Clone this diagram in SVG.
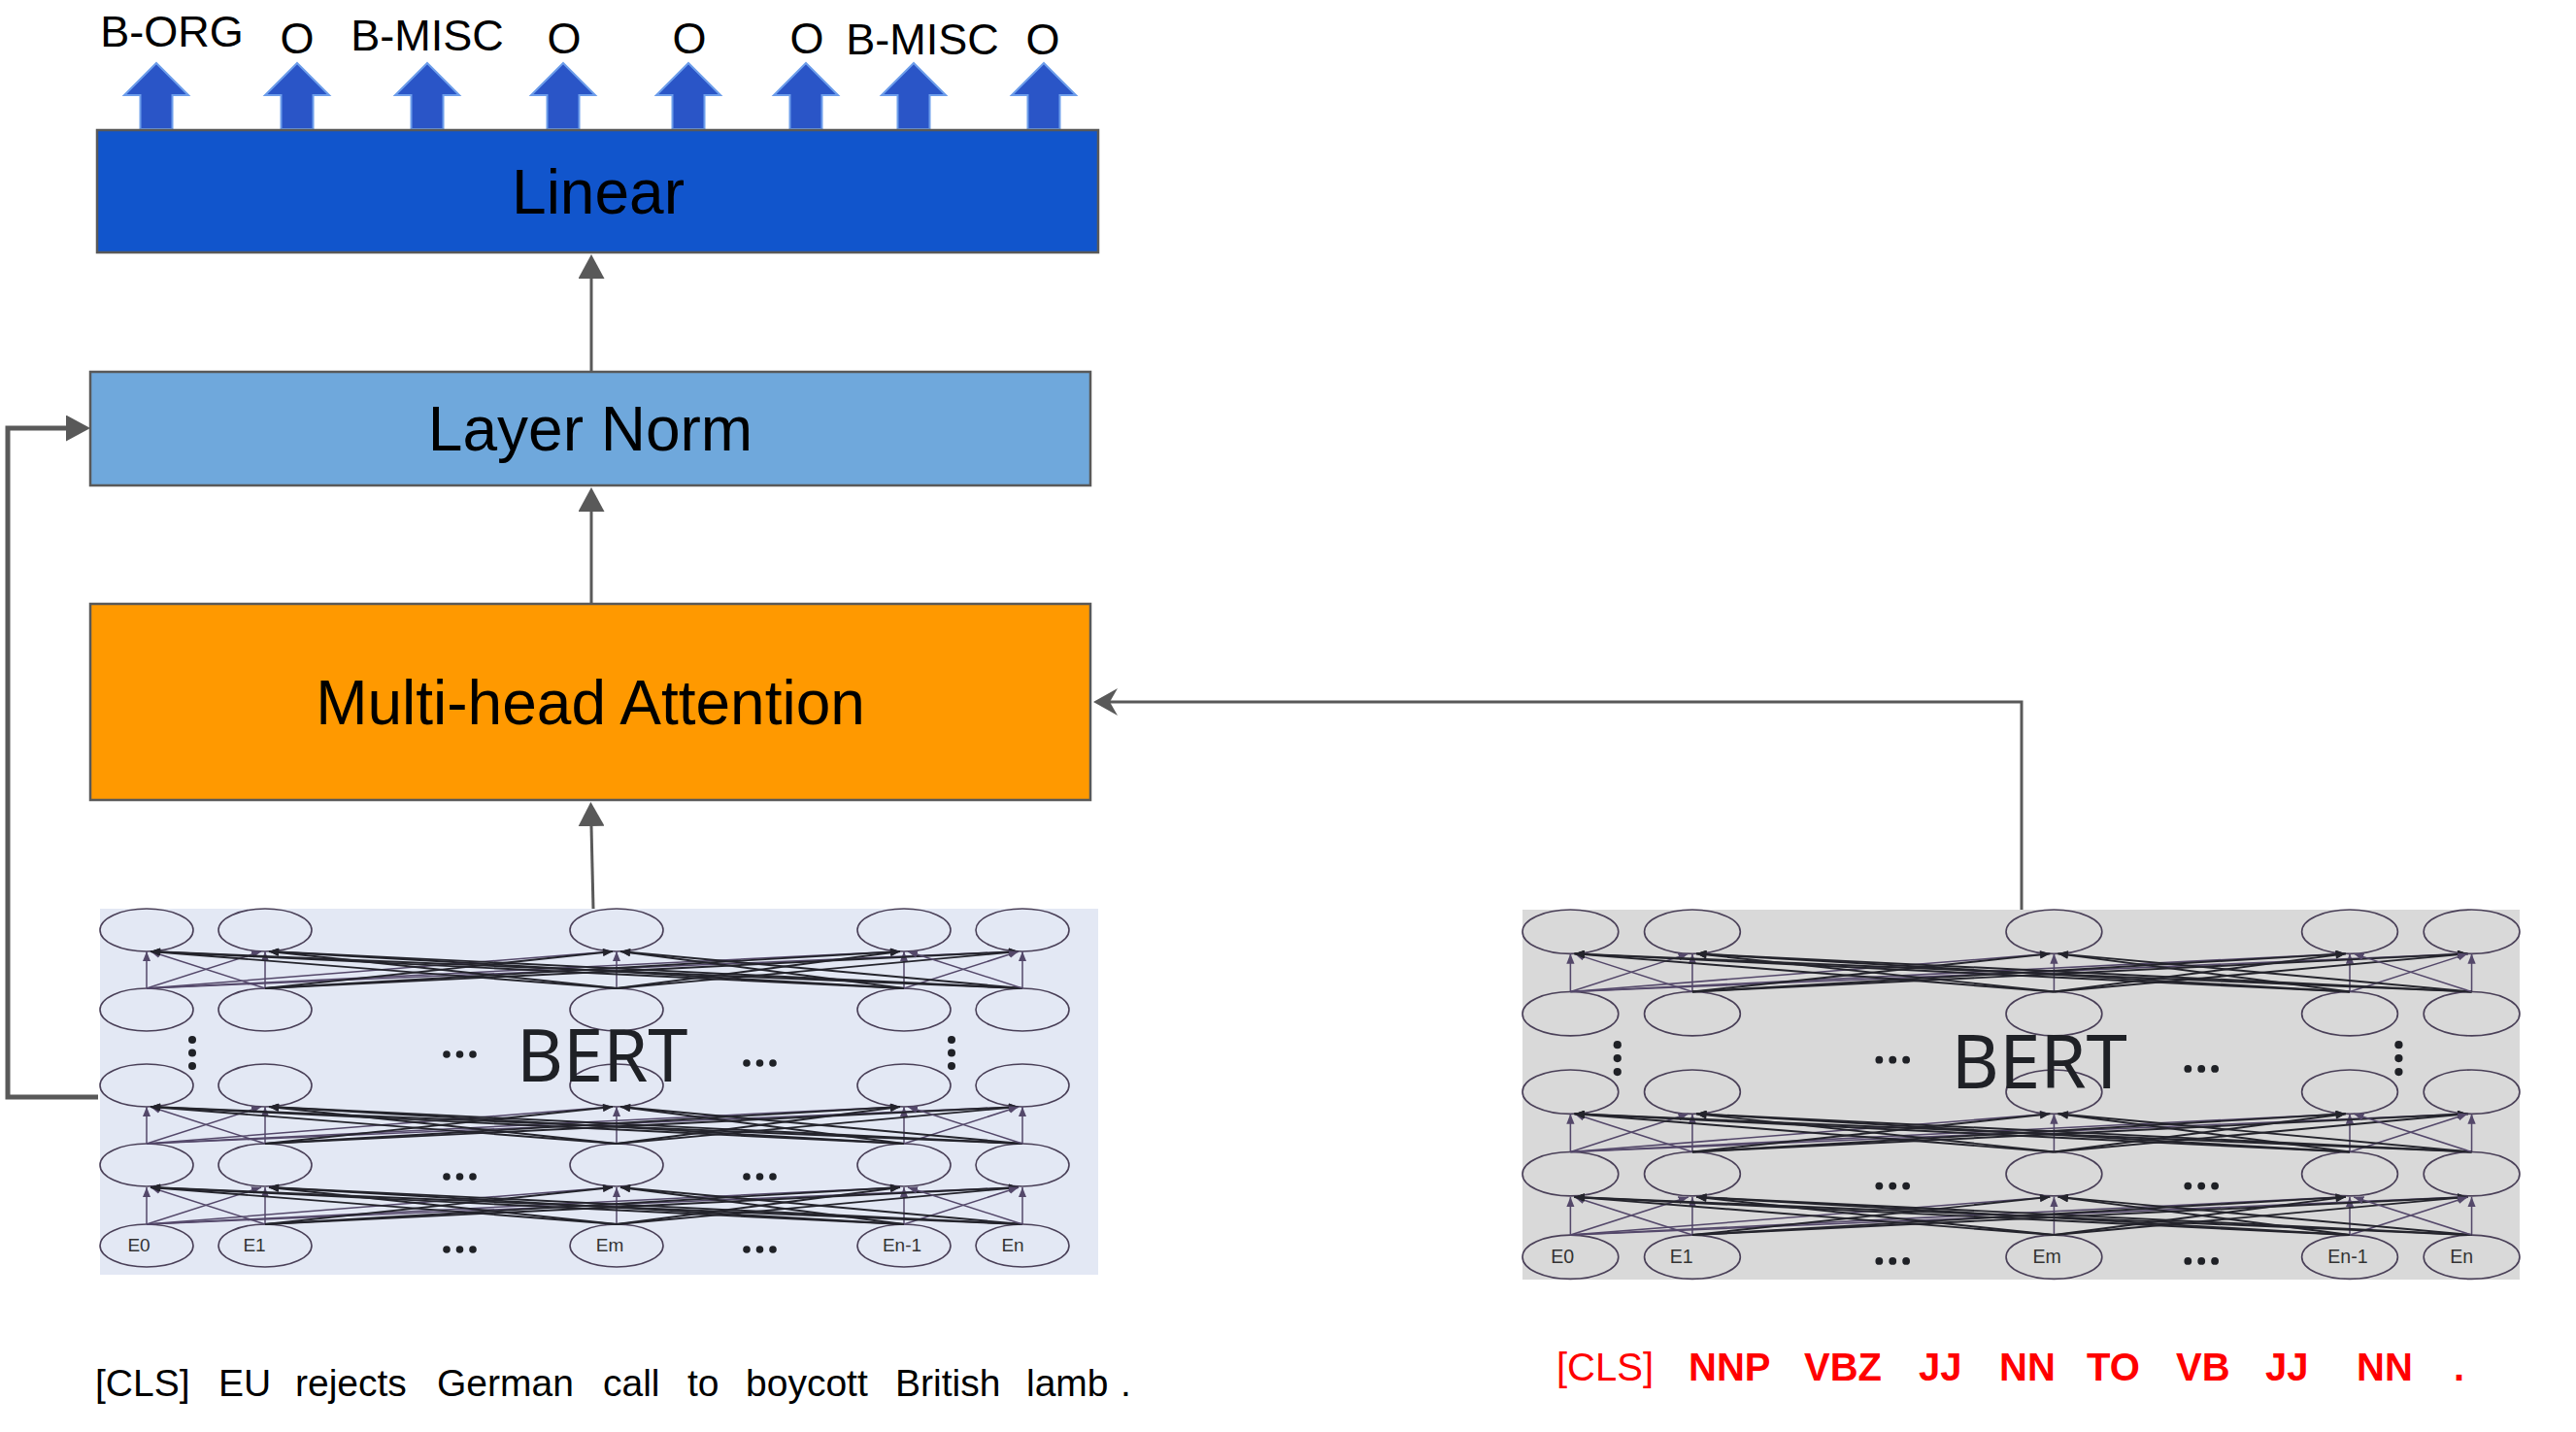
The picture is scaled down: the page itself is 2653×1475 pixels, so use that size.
<svg xmlns="http://www.w3.org/2000/svg" xmlns:xlink="http://www.w3.org/1999/xlink" width="2653" height="1475" viewBox="0 0 2653 1475">
<style>
  .lbl { font-family: "Liberation Sans", Arial, sans-serif; fill: #000; text-anchor: middle; }
  .out { font-size: 45px; }
  .box { stroke: #595959; stroke-width: 2.5; }
  .boxtxt { font-size: 64px; }
  .conn { fill: none; stroke: #595959; stroke-width: 3; }
  .conn-thick { fill: none; stroke: #595959; stroke-width: 5; }
  .blk { fill: #2a55c7; stroke: #6d9eeb; stroke-width: 2; }
  .nd { fill: none; stroke: #4a4058; stroke-width: 1.6; }
  .ln-d { stroke: #24242c; stroke-width: 1.9; marker-end: url(#ahd); }
  .ln-p { stroke: #54486a; stroke-width: 1.5; marker-end: url(#ahp); }
  .dot { fill: #1f2126; }
  .etxt { font-family: "Liberation Sans", Arial, sans-serif; font-size: 19px; fill: #333; text-anchor: middle; }
  .bert { font-family: "Noto Sans", "Open Sans", sans-serif; font-size: 74px; fill: #1f2126; }
  .sent { font-family: "Liberation Sans", Arial, sans-serif; font-size: 39px; fill: #000; }
  .pos { font-family: "Liberation Sans", Arial, sans-serif; font-size: 40px; fill: #ff0000; font-weight: bold; }
</style>
<defs>
  <marker id="ahd" viewBox="0 0 10 8" refX="10" refY="4" markerWidth="11" markerHeight="8" markerUnits="userSpaceOnUse" orient="auto">
    <path d="M0,0 L10,4 L0,8 z" fill="#24242c"/>
  </marker>
  <marker id="ahp" viewBox="0 0 10 8" refX="10" refY="4" markerWidth="10" markerHeight="8" markerUnits="userSpaceOnUse" orient="auto">
    <path d="M0,0 L10,4 L0,8 z" fill="#54486a"/>
  </marker>
  <marker id="tri" viewBox="0 0 25 27" refX="0" refY="13.5" markerWidth="25" markerHeight="27" markerUnits="userSpaceOnUse" orient="auto">
    <path d="M0,0 L25,13.5 L0,27 z" fill="#595959"/>
  </marker>
  <marker id="stealth" viewBox="0 0 25 28" refX="8" refY="14" markerWidth="25" markerHeight="28" markerUnits="userSpaceOnUse" orient="auto">
    <path d="M0,0 L25,14 L0,28 L8,14 z" fill="#595959"/>
  </marker>
  <path id="blockArrow" class="blk" d="M-16.5,133 V98 H-33 L0,65 L33,98 H16.5 V133 Z"/>
  <g id="conn">
    <line class="ln-p" x1="48" y1="38" x2="48" y2="0"/>
    <line class="ln-p" x1="170" y1="38" x2="170" y2="0"/>
    <line class="ln-p" x1="532" y1="38" x2="532" y2="0"/>
    <line class="ln-p" x1="828" y1="38" x2="828" y2="0"/>
    <line class="ln-p" x1="950" y1="38" x2="950" y2="0"/>
    <line class="ln-p" x1="48" y1="38" x2="166" y2="0"/>
    <line class="ln-p" x1="48" y1="38" x2="528" y2="0"/>
    <line class="ln-p" x1="48" y1="38" x2="824" y2="0"/>
    <line class="ln-p" x1="48" y1="38" x2="946" y2="0"/>
    <line class="ln-p" x1="170" y1="38" x2="52" y2="0"/>
    <line class="ln-d" x1="170" y1="38" x2="528" y2="0"/>
    <line class="ln-d" x1="170" y1="38" x2="824" y2="0"/>
    <line class="ln-d" x1="170" y1="38" x2="946" y2="0"/>
    <line class="ln-d" x1="532" y1="38" x2="52" y2="0"/>
    <line class="ln-d" x1="532" y1="38" x2="174" y2="0"/>
    <line class="ln-d" x1="532" y1="38" x2="824" y2="0"/>
    <line class="ln-d" x1="532" y1="38" x2="946" y2="0"/>
    <line class="ln-d" x1="828" y1="38" x2="52" y2="0"/>
    <line class="ln-d" x1="828" y1="38" x2="174" y2="0"/>
    <line class="ln-d" x1="828" y1="38" x2="536" y2="0"/>
    <line class="ln-p" x1="828" y1="38" x2="946" y2="0"/>
    <line class="ln-d" x1="950" y1="38" x2="52" y2="0"/>
    <line class="ln-d" x1="950" y1="38" x2="174" y2="0"/>
    <line class="ln-d" x1="950" y1="38" x2="536" y2="0"/>
    <line class="ln-p" x1="950" y1="38" x2="832" y2="0"/>
  </g>
  <g id="row">
    <ellipse class="nd" cx="48" cy="0" rx="48" ry="22"/>
    <ellipse class="nd" cx="170" cy="0" rx="48" ry="22"/>
    <ellipse class="nd" cx="532" cy="0" rx="48" ry="22"/>
    <ellipse class="nd" cx="828" cy="0" rx="48" ry="22"/>
    <ellipse class="nd" cx="950" cy="0" rx="48" ry="22"/>
  </g>
  <g id="dots3">
    <circle class="dot" cx="0" cy="0" r="3.8"/>
    <circle class="dot" cx="13.5" cy="0" r="3.8"/>
    <circle class="dot" cx="27" cy="0" r="3.8"/>
  </g>
  <g id="vdots">
    <circle class="dot" cx="0" cy="135" r="4"/>
    <circle class="dot" cx="0" cy="148.5" r="4"/>
    <circle class="dot" cx="0" cy="162" r="4"/>
  </g>
  <g id="bertnet">
    <use xlink:href="#row" y="22"/>
    <use xlink:href="#row" y="104"/>
    <use xlink:href="#row" y="182"/>
    <use xlink:href="#row" y="264"/>
    <use xlink:href="#row" y="347"/>
    <use xlink:href="#conn" y="44"/>
    <use xlink:href="#conn" y="204"/>
    <use xlink:href="#conn" y="287"/>
    <use xlink:href="#vdots" x="95"/>
    <use xlink:href="#vdots" x="877"/>
    <use xlink:href="#dots3" x="357" y="150"/>
    <use xlink:href="#dots3" x="666" y="159"/>
    <use xlink:href="#dots3" x="357" y="276"/>
    <use xlink:href="#dots3" x="666" y="276"/>
    <use xlink:href="#dots3" x="357" y="351"/>
    <use xlink:href="#dots3" x="666" y="351"/>
    <text class="bert" x="429" y="178">BERT</text>
    <text class="etxt" x="40" y="353">E0</text>
    <text class="etxt" x="159" y="353">E1</text>
    <text class="etxt" x="525" y="353">Em</text>
    <text class="etxt" x="826" y="353">En-1</text>
    <text class="etxt" x="940" y="353">En</text>
  </g>
</defs>

<rect x="0" y="0" width="2653" height="1475" fill="#ffffff"/>

<!-- Output labels with block arrows -->
<g id="out-1"><use xlink:href="#blockArrow" x="161"/><text class="lbl out" x="177" y="48">B-ORG</text></g>
<g id="out-2"><use xlink:href="#blockArrow" x="306"/><text class="lbl out" x="306" y="55">O</text></g>
<g id="out-3"><use xlink:href="#blockArrow" x="440"/><text class="lbl out" x="440" y="52">B-MISC</text></g>
<g id="out-4"><use xlink:href="#blockArrow" x="580"/><text class="lbl out" x="581" y="55">O</text></g>
<g id="out-5"><use xlink:href="#blockArrow" x="709"/><text class="lbl out" x="710" y="55">O</text></g>
<g id="out-6"><use xlink:href="#blockArrow" x="830"/><text class="lbl out" x="831" y="55">O</text></g>
<g id="out-7"><use xlink:href="#blockArrow" x="941"/><text class="lbl out" x="950" y="56">B-MISC</text></g>
<g id="out-8"><use xlink:href="#blockArrow" x="1075"/><text class="lbl out" x="1074" y="56">O</text></g>

<!-- Linear -->
<g id="linear">
  <rect class="box" x="100" y="134" width="1031" height="126" fill="#1155cc"/>
  <text class="lbl boxtxt" x="616" y="220">Linear</text>
</g>

<!-- Layer Norm -->
<g id="layernorm">
  <rect class="box" x="93" y="383" width="1030" height="117" fill="#6fa8dc"/>
  <text class="lbl boxtxt" x="608" y="464">Layer Norm</text>
</g>

<!-- Multi-head Attention -->
<g id="mha">
  <rect class="box" x="93" y="622" width="1030" height="202" fill="#ff9900"/>
  <text class="lbl boxtxt" x="608" y="746">Multi-head Attention</text>
</g>

<!-- BERT (left) -->
<g id="bert-left">
  <rect x="103" y="936" width="1028" height="377" fill="#e3e8f4"/>
  <use xlink:href="#bertnet" transform="translate(103,936)"/>
</g>

<!-- BERT (right) -->
<g id="bert-right">
  <rect x="1568" y="937" width="1027" height="381" fill="#d9d9d9"/>
  <use xlink:href="#bertnet" transform="translate(1568,937) scale(1.029,1.031)"/>
</g>

<!-- Connectors -->
<g id="connectors">
  <path class="conn" d="M609,382 V287" marker-end="url(#tri)"/>
  <path class="conn" d="M609,621 V527" marker-end="url(#tri)"/>
  <path class="conn" d="M611,936 L609,851" marker-end="url(#tri)"/>
  <path class="conn" d="M2082,937 V723 H1143" marker-end="url(#stealth)"/>
  <path class="conn-thick" d="M101,1130 H8 V441 H68" marker-end="url(#tri)"/>
</g>

<!-- Input sentence -->
<g id="sentence">
  <text class="sent" y="1438"><tspan x="98">[CLS]</tspan> <tspan x="225">EU</tspan> <tspan x="304">rejects</tspan> <tspan x="450">German</tspan> <tspan x="621">call</tspan> <tspan x="708">to</tspan> <tspan x="768">boycott</tspan> <tspan x="922">British</tspan> <tspan x="1057">lamb</tspan> <tspan x="1154">.</tspan></text>
</g>

<!-- POS tags -->
<g id="pos-tags">
  <text class="pos" y="1422"><tspan x="1603" font-weight="normal">[CLS]</tspan> <tspan x="1739">NNP</tspan> <tspan x="1858">VBZ</tspan> <tspan x="1976">JJ</tspan> <tspan x="2059">NN</tspan> <tspan x="2149">TO</tspan> <tspan x="2241">VB</tspan> <tspan x="2333">JJ</tspan> <tspan x="2427">NN</tspan> <tspan x="2527">.</tspan></text>
</g>
</svg>
